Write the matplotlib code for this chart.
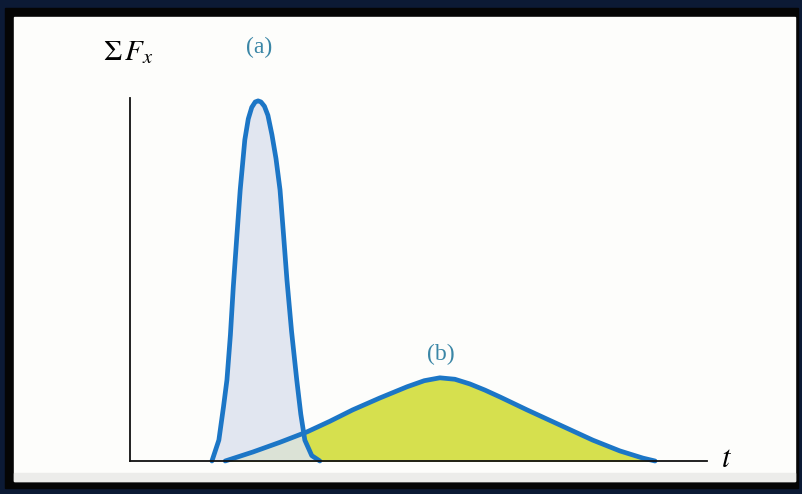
import matplotlib.pyplot as plt
from matplotlib.patches import Rectangle

plt.rcParams["mathtext.fontset"] = "stix"

# pulse (a): short, tall
t_a = [1.42, 1.54, 1.62, 1.68, 1.74, 1.79, 1.85, 1.91, 1.99, 2.05, 2.11, 2.17, 2.22,
       2.27, 2.33, 2.39, 2.46, 2.53, 2.60, 2.66, 2.72, 2.80, 2.89, 2.96, 3.03, 3.15, 3.29]
f_a = [0.0, 0.058, 0.15, 0.225, 0.35, 0.483, 0.62, 0.753, 0.892, 0.95, 0.982, 0.997, 1.0,
       0.997, 0.985, 0.96, 0.906, 0.84, 0.753, 0.63, 0.503, 0.36, 0.225, 0.13, 0.058, 0.015, 0.0]

# pulse (b): long, low
t_b = [1.65, 2.13, 2.60, 3.07, 3.46, 3.86, 4.33, 4.80, 5.10, 5.37, 5.63, 5.89,
       6.15, 6.41, 6.88, 7.45, 8.02, 8.49, 8.89, 9.10]
f_b = [0.0, 0.025, 0.052, 0.081, 0.11, 0.142, 0.175, 0.206, 0.223, 0.231, 0.227, 0.214,
       0.197, 0.178, 0.142, 0.10, 0.058, 0.028, 0.008, 0.0]

labels = ["(a)", "(b)"]

W, H = 803, 494
fig = plt.figure(figsize=(W / 100, H / 100), dpi=100)
fig.patch.set_facecolor("#0c1a35")

# frame: black band and white page
bg = fig.add_axes([0, 0, 1, 1])
bg.set_xlim(0, W)
bg.set_ylim(H, 0)
bg.axis("off")
bg.add_patch(Rectangle((5, 8), 793, 480, color="#050505"))
bg.add_patch(Rectangle((14, 17), 781, 464, color="#fdfdfb"))
bg.add_patch(Rectangle((14, 473), 781, 8, color="#ececea"))

ax = fig.add_axes([130 / W, (H - 461) / H, 577 / W, 363 / H])
ax.set_xlim(0, 10)
ax.set_ylim(0, 1.008)
ax.patch.set_alpha(0)

blue = "#1c76c6"
ax.fill_between(t_b, f_b, color="#d6e04e", zorder=1)
ax.fill(t_a, f_a, color="#dde3ef", alpha=0.85, zorder=2)
ax.plot(t_b, f_b, color=blue, lw=3.4, solid_capstyle="round", solid_joinstyle="round",
        clip_on=False, zorder=3)
ax.plot(t_a, f_a, color=blue, lw=3.4, solid_capstyle="round", solid_joinstyle="round",
        clip_on=False, zorder=4)

for s in ["top", "right"]:
    ax.spines[s].set_visible(False)
for s in ["left", "bottom"]:
    ax.spines[s].set_linewidth(1.3)
    ax.spines[s].set_color("#111111")
    ax.spines[s].set_zorder(5)
ax.set_xticks([])
ax.set_yticks([])

serif = ["Liberation Serif", "DejaVu Serif"]
fig.text(103 / W, 1 - 52 / H, r"$\Sigma\,\mathbf{\mathit{F}}_{x}$", fontsize=21,
         va="center", ha="left")
fig.text(259 / W, 1 - 47 / H, labels[0], fontsize=17, family=serif, color="#3a86a6",
         ha="center", va="center")
fig.text(441 / W, 1 - 354 / H, labels[1], fontsize=17, family=serif, color="#3a86a6",
         ha="center", va="center")
fig.text(727 / W, 1 - 458 / H, r"$t$", fontsize=22, ha="center", va="center")

fig.savefig("out.png", dpi=100, facecolor=fig.get_facecolor())
